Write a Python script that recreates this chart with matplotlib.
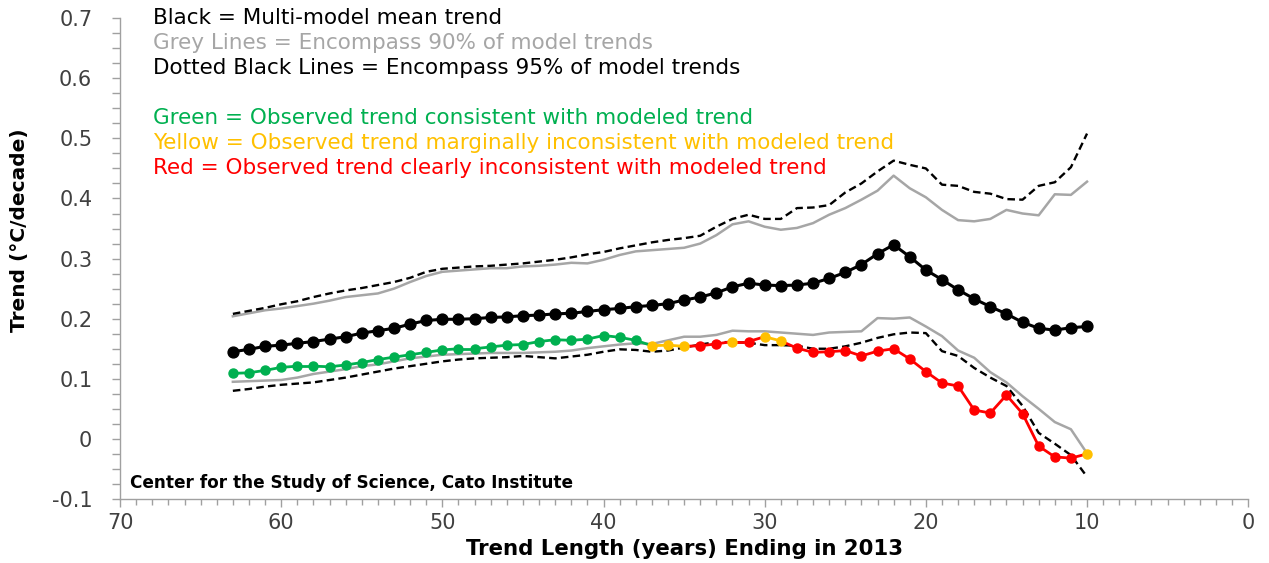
"""Observed vs. modelled temperature trends by trend length (ending 2013)."""

import matplotlib

matplotlib.use("Agg")
import matplotlib.pyplot as plt
from matplotlib.ticker import FuncFormatter, MultipleLocator

# --- data (trend length in years, trend in degC/decade) ---
years = list(range(63, 9, -1))

model_mean = [
    0.145, 0.149, 0.154, 0.156, 0.159, 0.162, 0.166, 0.170, 0.176, 0.180,
    0.184, 0.191, 0.197, 0.199, 0.199, 0.200, 0.202, 0.203, 0.205, 0.206,
    0.208, 0.209, 0.212, 0.215, 0.217, 0.220, 0.222, 0.225, 0.231, 0.236,
    0.243, 0.253, 0.259, 0.256, 0.255, 0.256, 0.259, 0.267, 0.277, 0.290,
    0.308, 0.323, 0.303, 0.281, 0.265, 0.248, 0.233, 0.220, 0.208, 0.194,
    0.184, 0.181, 0.185, 0.187,
]

grey_upper = [
    0.204, 0.209, 0.214, 0.217, 0.221, 0.225, 0.230, 0.236, 0.239, 0.242,
    0.250, 0.261, 0.271, 0.278, 0.280, 0.282, 0.284, 0.284, 0.287, 0.288,
    0.290, 0.293, 0.292, 0.298, 0.306, 0.312, 0.314, 0.316, 0.318, 0.325,
    0.339, 0.357, 0.362, 0.353, 0.348, 0.351, 0.359, 0.373, 0.384, 0.398,
    0.413, 0.438, 0.417, 0.402, 0.381, 0.364, 0.362, 0.366, 0.381, 0.375,
    0.372, 0.407, 0.406, 0.428,
]

grey_lower = [
    0.095, 0.096, 0.097, 0.098, 0.102, 0.108, 0.112, 0.116, 0.121, 0.124,
    0.129, 0.134, 0.137, 0.140, 0.141, 0.142, 0.143, 0.143, 0.143, 0.144,
    0.145, 0.147, 0.151, 0.154, 0.157, 0.159, 0.158, 0.164, 0.170, 0.170,
    0.173, 0.180, 0.179, 0.179, 0.177, 0.175, 0.173, 0.177, 0.178, 0.179,
    0.201, 0.200, 0.202, 0.187, 0.171, 0.147, 0.135, 0.111, 0.094, 0.071,
    0.050, 0.028, 0.016, -0.024,
]

dash_upper = [
    0.208, 0.213, 0.218, 0.224, 0.229, 0.236, 0.242, 0.247, 0.251, 0.256,
    0.261, 0.268, 0.278, 0.283, 0.285, 0.287, 0.288, 0.290, 0.292, 0.295,
    0.298, 0.302, 0.307, 0.311, 0.317, 0.322, 0.327, 0.331, 0.334, 0.338,
    0.353, 0.366, 0.373, 0.366, 0.366, 0.384, 0.385, 0.389, 0.410, 0.425,
    0.445, 0.463, 0.456, 0.450, 0.423, 0.421, 0.411, 0.408, 0.399, 0.398,
    0.421, 0.427, 0.452, 0.508,
]

dash_lower = [
    0.080, 0.083, 0.087, 0.090, 0.092, 0.094, 0.098, 0.102, 0.107, 0.112,
    0.117, 0.121, 0.125, 0.129, 0.132, 0.134, 0.135, 0.136, 0.138, 0.136,
    0.134, 0.137, 0.140, 0.145, 0.149, 0.148, 0.145, 0.147, 0.152, 0.157,
    0.161, 0.161, 0.160, 0.156, 0.156, 0.155, 0.150, 0.150, 0.154, 0.160,
    0.168, 0.174, 0.177, 0.176, 0.146, 0.138, 0.118, 0.102, 0.088, 0.055,
    0.010, -0.008, -0.027, -0.063,
]

observed = [
    0.109, 0.110, 0.114, 0.119, 0.121, 0.121, 0.120, 0.123, 0.127, 0.132,
    0.136, 0.140, 0.144, 0.148, 0.150, 0.150, 0.153, 0.156, 0.157, 0.162,
    0.165, 0.164, 0.166, 0.172, 0.169, 0.164, 0.155, 0.156, 0.154, 0.155,
    0.158, 0.162, 0.162, 0.170, 0.163, 0.151, 0.144, 0.145, 0.147, 0.138,
    0.146, 0.150, 0.133, 0.112, 0.093, 0.088, 0.048, 0.043, 0.073, 0.042,
    -0.012, -0.030, -0.032, -0.025,
]

# consistency class of each observed trend: g = consistent, y = marginal, r = inconsistent
status = list("g" * 26 + "yyy" + "rr" + "y" + "r" + "yy" + "r" * 18 + "y")

GREEN = "#00b050"
YELLOW = "#ffc000"
RED = "#ff0000"
GREY = "#a6a6a6"
status_color = {"g": GREEN, "y": YELLOW, "r": RED}

# --- figure ---
fig = plt.figure(figsize=(12.69, 5.63), dpi=100)
ax = fig.add_axes([0.0946, 0.1137, 0.889, 0.854])

dash = (0, (3.2, 1.8))
ax.plot(years, grey_upper, color=GREY, lw=1.8, zorder=2)
ax.plot(years, grey_lower, color=GREY, lw=1.8, zorder=2)
ax.plot(years, dash_upper, color="black", lw=1.7, ls=dash, zorder=2)
ax.plot(years, dash_lower, color="black", lw=1.7, ls=dash, zorder=2)

ax.plot(years, model_mean, color="black", lw=2.2, marker="o", ms=7.8, zorder=4)

# observed: segment colour by worst of its two ends (red > green > yellow)
rank = {"r": 0, "g": 1, "y": 2}
for i in range(len(years) - 1):
    s = min(status[i], status[i + 1], key=rank.get)
    ax.plot(years[i:i + 2], observed[i:i + 2], color=status_color[s], lw=2.0,
            solid_capstyle="round", zorder=3)
for x, v, s in zip(years, observed, status):
    ax.plot(x, v, "o", color=status_color[s], ms=6.5, zorder=5)

# axes styling
ax.set_xlim(70, 0)
ax.set_ylim(-0.1, 0.7)
ax.xaxis.set_major_locator(MultipleLocator(10))
ax.xaxis.set_minor_locator(MultipleLocator(1))
ax.yaxis.set_major_locator(MultipleLocator(0.1))
ax.yaxis.set_minor_locator(MultipleLocator(0.025))
ax.yaxis.set_major_formatter(FuncFormatter(lambda v, _: "0" if abs(v) < 1e-9 else f"{v:.1f}"))
for side in ("top", "right"):
    ax.spines[side].set_visible(False)
for side in ("left", "bottom"):
    ax.spines[side].set_color("#a0a0a0")
    ax.spines[side].set_linewidth(1.0)
ax.tick_params(which="both", width=1.0, color="#a0a0a0", labelcolor="#404040", labelsize=15)
ax.tick_params(axis="y", which="both", length=6, pad=14)
ax.tick_params(axis="x", which="major", length=6, pad=4)
ax.tick_params(axis="x", which="minor", length=4)

ax.set_ylabel("Trend (°C/decade)", fontsize=14.5, fontweight="bold", va="center")
ax.yaxis.set_label_coords(-0.0887, 0.56)
ax.set_xlabel("Trend Length (years) Ending in 2013", fontsize=15.3, fontweight="bold", va="center")
ax.xaxis.set_label_coords(0.5, -0.104)

# key text
key = [
    ("Black = Multi-model mean trend", "black", 0),
    ("Grey Lines = Encompass 90% of model trends", GREY, 1),
    ("Dotted Black Lines = Encompass 95% of model trends", "black", 2),
    ("Green = Observed trend consistent with modeled trend", GREEN, 4),
    ("Yellow = Observed trend marginally inconsistent with modeled trend", YELLOW, 5),
    ("Red = Observed trend clearly inconsistent with modeled trend", RED, 6),
]
for txt, col, row in key:
    ax.text(0.029, 1.0 - row * 0.0518, txt, transform=ax.transAxes, color=col,
            fontsize=15.5, ha="left", va="center")

ax.text(0.009, 0.0335, "Center for the Study of Science, Cato Institute",
        transform=ax.transAxes, fontsize=12.2, fontweight="bold",
        ha="left", va="center")

fig.savefig("out.png", dpi=100)
